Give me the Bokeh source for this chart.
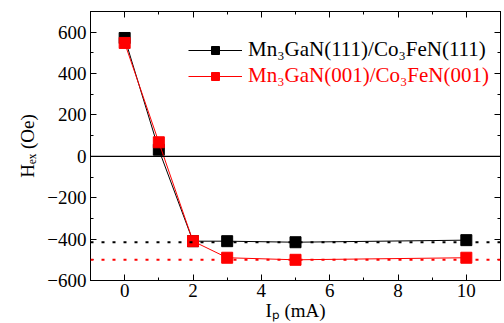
from bokeh.plotting import figure
from bokeh.models import (Range1d, LinearAxis, SingleIntervalTicker, Span, Legend,
                          LegendItem, CustomLabelingPolicy, CustomJSTickFormatter)
from bokeh.embed import file_html
from bokeh.resources import INLINE

# data
current = [0, 1, 2, 3, 5, 10]
hex_111 = [572, 32, -410, -410, -415, -405]
hex_001 = [548, 68, -410, -490, -500, -490]
ref_111 = -415
ref_001 = -500
label_111 = "Mn\u2083GaN(111)/Co\u2083FeN(111)"
label_001 = "Mn\u2083GaN(001)/Co\u2083FeN(001)"
x_label = "I\u209a (mA)"
y_label = "H\u2091\u2093 (Oe)"

FONT = "Liberation Serif"
FS = "19px"

p = figure(width=504, height=323, output_backend="svg", toolbar_location=None,
           x_range=Range1d(-1, 11), y_range=Range1d(-600, 700),
           min_border_left=90, min_border_right=4, min_border_top=11, min_border_bottom=41,
           x_axis_location=None, y_axis_location=None)
p.grid.visible = False
p.outline_line_color = "black"
p.outline_line_width = 1
p.background_fill_color = "white"
p.border_fill_color = "white"

hide = CustomLabelingPolicy(code="const a = [...indices]; for (const i of a) indices.unset(i); return indices")
blank = CustomJSTickFormatter(code="return ''")

def mk_axis(interval, labels=True):
    ax = LinearAxis(ticker=SingleIntervalTicker(interval=interval, num_minor_ticks=2))
    ax.major_tick_in = 6
    ax.major_tick_out = 0
    ax.minor_tick_in = 3
    ax.minor_tick_out = 0
    ax.axis_line_color = "black"
    ax.major_tick_line_color = "black"
    ax.minor_tick_line_color = "black"
    ax.major_label_text_font = FONT
    ax.major_label_text_font_size = FS
    ax.major_label_text_color = "black"
    ax.major_label_standoff = 4
    ax.axis_label_text_font = FONT
    ax.axis_label_text_font_size = "19px"
    ax.axis_label_text_font_style = "normal"
    ax.axis_label_text_color = "black"
    if not labels:
        ax.formatter = blank
        ax.major_label_policy = hide
        ax.major_label_standoff = 0
        ax.major_label_text_font_size = "1px"
    return ax

xb = mk_axis(2)
xb.axis_label = x_label
xb.axis_label_standoff = 0
xb.major_label_standoff = 3
yl = mk_axis(200)
yl.axis_label = y_label
yl.axis_label_standoff = 6
p.add_layout(xb, "below")
p.add_layout(yl, "left")
p.add_layout(mk_axis(2, False), "above")
p.add_layout(mk_axis(200, False), "right")

p.add_layout(Span(location=0, dimension="width", line_color="black", line_width=1.2))
p.add_layout(Span(location=ref_111, dimension="width", line_color="black",
                  line_width=2, line_dash="3 8"))
p.add_layout(Span(location=ref_001, dimension="width", line_color="#ff0000",
                  line_width=2, line_dash="3 8"))

l1 = p.line(current, hex_111, line_color="black", line_width=1)
s1 = p.scatter(current, hex_111, marker="square", size=11, fill_color="black", line_color="black")
l2 = p.line(current, hex_001, line_color="#ff0000", line_width=1)
s2 = p.scatter(current, hex_001, marker="square", size=11, fill_color="#ff0000", line_color="#ff0000")

def mk_legend(items, color, loc):
    return Legend(items=items, location=loc, padding=0, margin=0, spacing=0,
                  border_line_color=None, background_fill_alpha=0,
                  glyph_width=54, glyph_height=20, label_standoff=6,
                  label_text_font=FONT, label_text_font_size="21px",
                  label_text_color=color)

p.add_layout(mk_legend([LegendItem(label=label_111, renderers=[l1, s1])], "black", (98, 218)))
p.add_layout(mk_legend([LegendItem(label=label_001, renderers=[l2, s2])], "#ff0000", (98, 192)))

open("out.html", "w").write(file_html(p, INLINE))
